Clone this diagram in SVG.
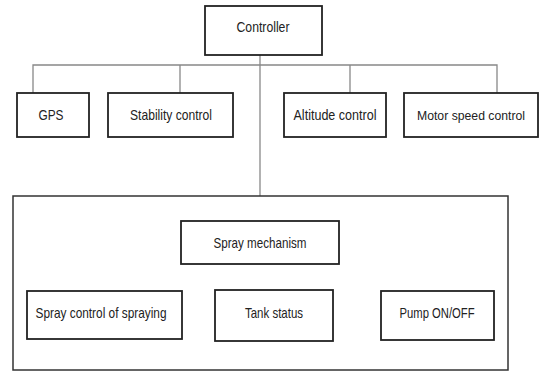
<svg xmlns="http://www.w3.org/2000/svg" width="540" height="372" viewBox="0 0 540 372">
<style>
.box{fill:#fff;stroke:#222;stroke-width:1.8}
.frame{fill:none;stroke:#333;stroke-width:1.5}
.conn{fill:none;stroke:#888;stroke-width:1.3}
text{font-family:"Liberation Sans",Arial,sans-serif;font-size:15px;fill:#222;text-anchor:middle}
.sm{font-size:13.5px}
</style>
<rect width="540" height="372" fill="#fff"/>
<g id="connectors">
<polyline class="conn" points="33,93 33,65 497,65 497,93"/>
<line class="conn" x1="180" y1="65" x2="180" y2="93"/>
<line class="conn" x1="350" y1="65" x2="350" y2="93"/>
<line class="conn" x1="260" y1="55" x2="260" y2="196"/>
</g>
<g id="controller"><rect class="box" x="205" y="6" width="117" height="49"/><text x="263" y="32" textLength="53" lengthAdjust="spacingAndGlyphs">Controller</text></g>
<g id="gps"><rect class="box" x="17" y="93" width="72" height="44"/><text x="51" y="120" textLength="25" lengthAdjust="spacingAndGlyphs">GPS</text></g>
<g id="stability"><rect class="box" x="108" y="93" width="125" height="44"/><text x="171" y="120" textLength="82" lengthAdjust="spacingAndGlyphs">Stability control</text></g>
<g id="altitude"><rect class="box" x="284" y="93" width="102" height="44"/><text x="335" y="120" textLength="83" lengthAdjust="spacingAndGlyphs">Altitude control</text></g>
<g id="motor"><rect class="box" x="404" y="93" width="134" height="44"/><text class="sm" x="471" y="120" textLength="108" lengthAdjust="spacingAndGlyphs">Motor speed control</text></g>
<g id="spray-subsystem"><rect class="frame" x="13" y="196" width="495" height="174"/></g>
<g id="spray-mechanism"><rect class="box" x="181" y="221" width="158" height="43"/><text x="260" y="248" textLength="93" lengthAdjust="spacingAndGlyphs">Spray mechanism</text></g>
<g id="spray-control"><rect class="box" x="27" y="291" width="155" height="48"/><text x="101" y="318" textLength="131" lengthAdjust="spacingAndGlyphs">Spray control of spraying</text></g>
<g id="tank-status"><rect class="box" x="215" y="290" width="118" height="51"/><text x="274" y="318" textLength="58" lengthAdjust="spacingAndGlyphs">Tank status</text></g>
<g id="pump"><rect class="box" x="381" y="291" width="113" height="49"/><text x="437" y="318" textLength="75" lengthAdjust="spacingAndGlyphs">Pump ON/OFF</text></g>
</svg>
